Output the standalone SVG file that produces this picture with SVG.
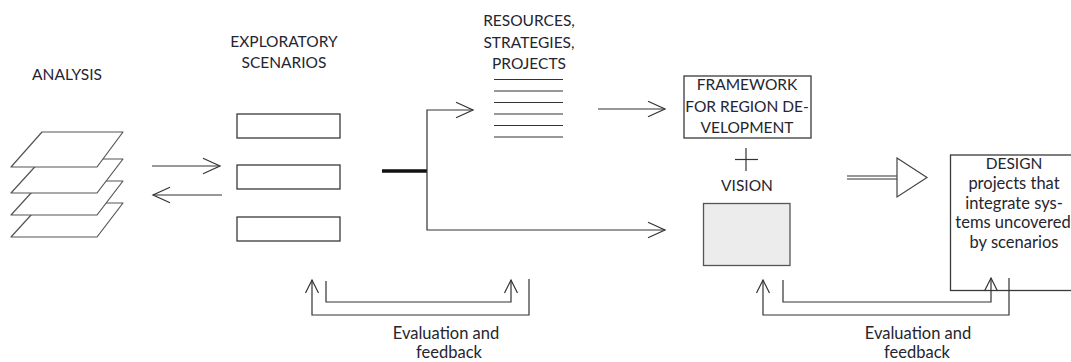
<svg xmlns="http://www.w3.org/2000/svg" width="1071" height="362" viewBox="0 0 1071 362">
  <style>
    text { font-family: Lato, "Open Sans", "Liberation Sans", sans-serif; font-size: 15.5px; fill: #25252f; text-anchor: middle; }
    text.lc { font-size: 16.5px; }
    .box { fill: #ffffff; stroke: #3a3a3a; stroke-width: 1.3; }
    .layer { fill: #ffffff; stroke: #555555; stroke-width: 1.2; stroke-linejoin: round; }
    .line { fill: none; stroke: #333333; stroke-width: 1.2; }
    .arrow { fill: none; stroke: #333333; stroke-width: 1.2; marker-end: url(#open); }
    .fb { fill: none; stroke: #333333; stroke-width: 1.2; marker-end: url(#openSmall); }
  </style>
  <defs>
    <marker id="open" markerUnits="userSpaceOnUse" markerWidth="20" markerHeight="18" viewBox="0 0 20 18" refX="18" refY="9" orient="auto">
      <path d="M1,1.3 L18,9 L1,16.7" fill="none" stroke="#333333" stroke-width="1.2"/>
    </marker>
    <marker id="openSmall" markerUnits="userSpaceOnUse" markerWidth="16" markerHeight="16" viewBox="0 0 16 16" refX="14" refY="8" orient="auto">
      <path d="M1,1.5 L14,8 L1,14.5" fill="none" stroke="#333333" stroke-width="1.2"/>
    </marker>
  </defs>

  <!-- Analysis: stacked layers -->
  <g id="analysis">
    <text x="67" y="80">ANALYSIS</text>
    <polygon class="layer" points="42,203 123,203 97,237 11,237"/>
    <polygon class="layer" points="42,181 123,181 97,215 11,215"/>
    <polygon class="layer" points="42,159 123,159 97,193 11,193"/>
    <polygon class="layer" points="42,132 123,132 97,167 11,167"/>
  </g>

  <!-- Exploratory scenarios -->
  <g id="scenarios">
    <text x="284" y="47">EXPLORATORY</text>
    <text x="284" y="68">SCENARIOS</text>
    <rect class="box" x="237" y="114" width="103" height="24"/>
    <rect class="box" x="237" y="165" width="103" height="24"/>
    <rect class="box" x="237" y="217" width="103" height="24"/>
  </g>

  <!-- Resources, strategies, projects list -->
  <g id="resources">
    <text x="529" y="26">RESOURCES,</text>
    <text x="529" y="48">STRATEGIES,</text>
    <text x="529" y="69">PROJECTS</text>
    <g class="line">
      <line x1="494" y1="79.5" x2="563" y2="79.5"/>
      <line x1="494" y1="91" x2="563" y2="91"/>
      <line x1="494" y1="102.5" x2="563" y2="102.5"/>
      <line x1="494" y1="114" x2="563" y2="114"/>
      <line x1="494" y1="125.5" x2="563" y2="125.5"/>
      <line x1="494" y1="137" x2="563" y2="137"/>
    </g>
  </g>

  <!-- Framework for region development -->
  <g id="framework">
    <rect class="box" x="684" y="76" width="127" height="62"/>
    <text x="747" y="90">FRAMEWORK</text>
    <text x="747" y="112">FOR REGION DE-</text>
    <text x="747" y="133">VELOPMENT</text>
  </g>

  <!-- Plus sign joining framework and vision -->
  <g id="plus" class="line">
    <line x1="735" y1="159.5" x2="758" y2="159.5"/>
    <line x1="746" y1="148" x2="746" y2="171"/>
  </g>

  <!-- Vision -->
  <g id="vision">
    <text x="747" y="191">VISION</text>
    <rect x="703.5" y="203.5" width="86.5" height="62" fill="#ececec" stroke="#555555" stroke-width="1.3"/>
  </g>

  <!-- Design -->
  <g id="design">
    <rect class="box" x="950.5" y="155" width="140" height="135.5"/>
    <text x="1014" y="169">DESIGN</text>
    <text class="lc" x="1014" y="189">projects that</text>
    <text class="lc" x="1014" y="208.5">integrate sys-</text>
    <text class="lc" x="1013" y="228">tems uncovered</text>
    <text class="lc" x="1014" y="248">by scenarios</text>
  </g>

  <!-- Feedback labels -->
  <g id="feedback-left">
    <text class="lc" x="446" y="339">Evaluation and</text>
    <text class="lc" x="449" y="358">feedback</text>
  </g>
  <g id="feedback-right">
    <text class="lc" x="918" y="339">Evaluation and</text>
    <text class="lc" x="917" y="358">feedback</text>
  </g>

  <!-- Connectors -->
  <g id="connectors">
    <path class="arrow" d="M152,166 H220"/>
    <path class="arrow" d="M222,195 H153"/>
    <line x1="382" y1="171" x2="427" y2="171" stroke="#111111" stroke-width="3.5"/>
    <path class="arrow" d="M427,171 V110 H473"/>
    <path class="arrow" d="M427,171 V230 H665"/>
    <path class="arrow" d="M598,109 H665"/>
    <!-- double-shafted hollow arrow to design -->
    <line class="line" x1="847" y1="176" x2="898" y2="176"/>
    <line class="line" x1="847" y1="179" x2="898" y2="179"/>
    <polygon points="897,158 927,177.5 897,197" fill="#ffffff" stroke="#444444" stroke-width="1.2"/>
    <!-- evaluation loops -->
    <path class="fb" d="M529,279 V315 H312 V280"/>
    <path class="fb" d="M326,281 V302 H511 V280"/>
    <path class="fb" d="M1009,278 V315 H763 V280"/>
    <path class="fb" d="M783,280 V302 H991 V278"/>
  </g>
</svg>
